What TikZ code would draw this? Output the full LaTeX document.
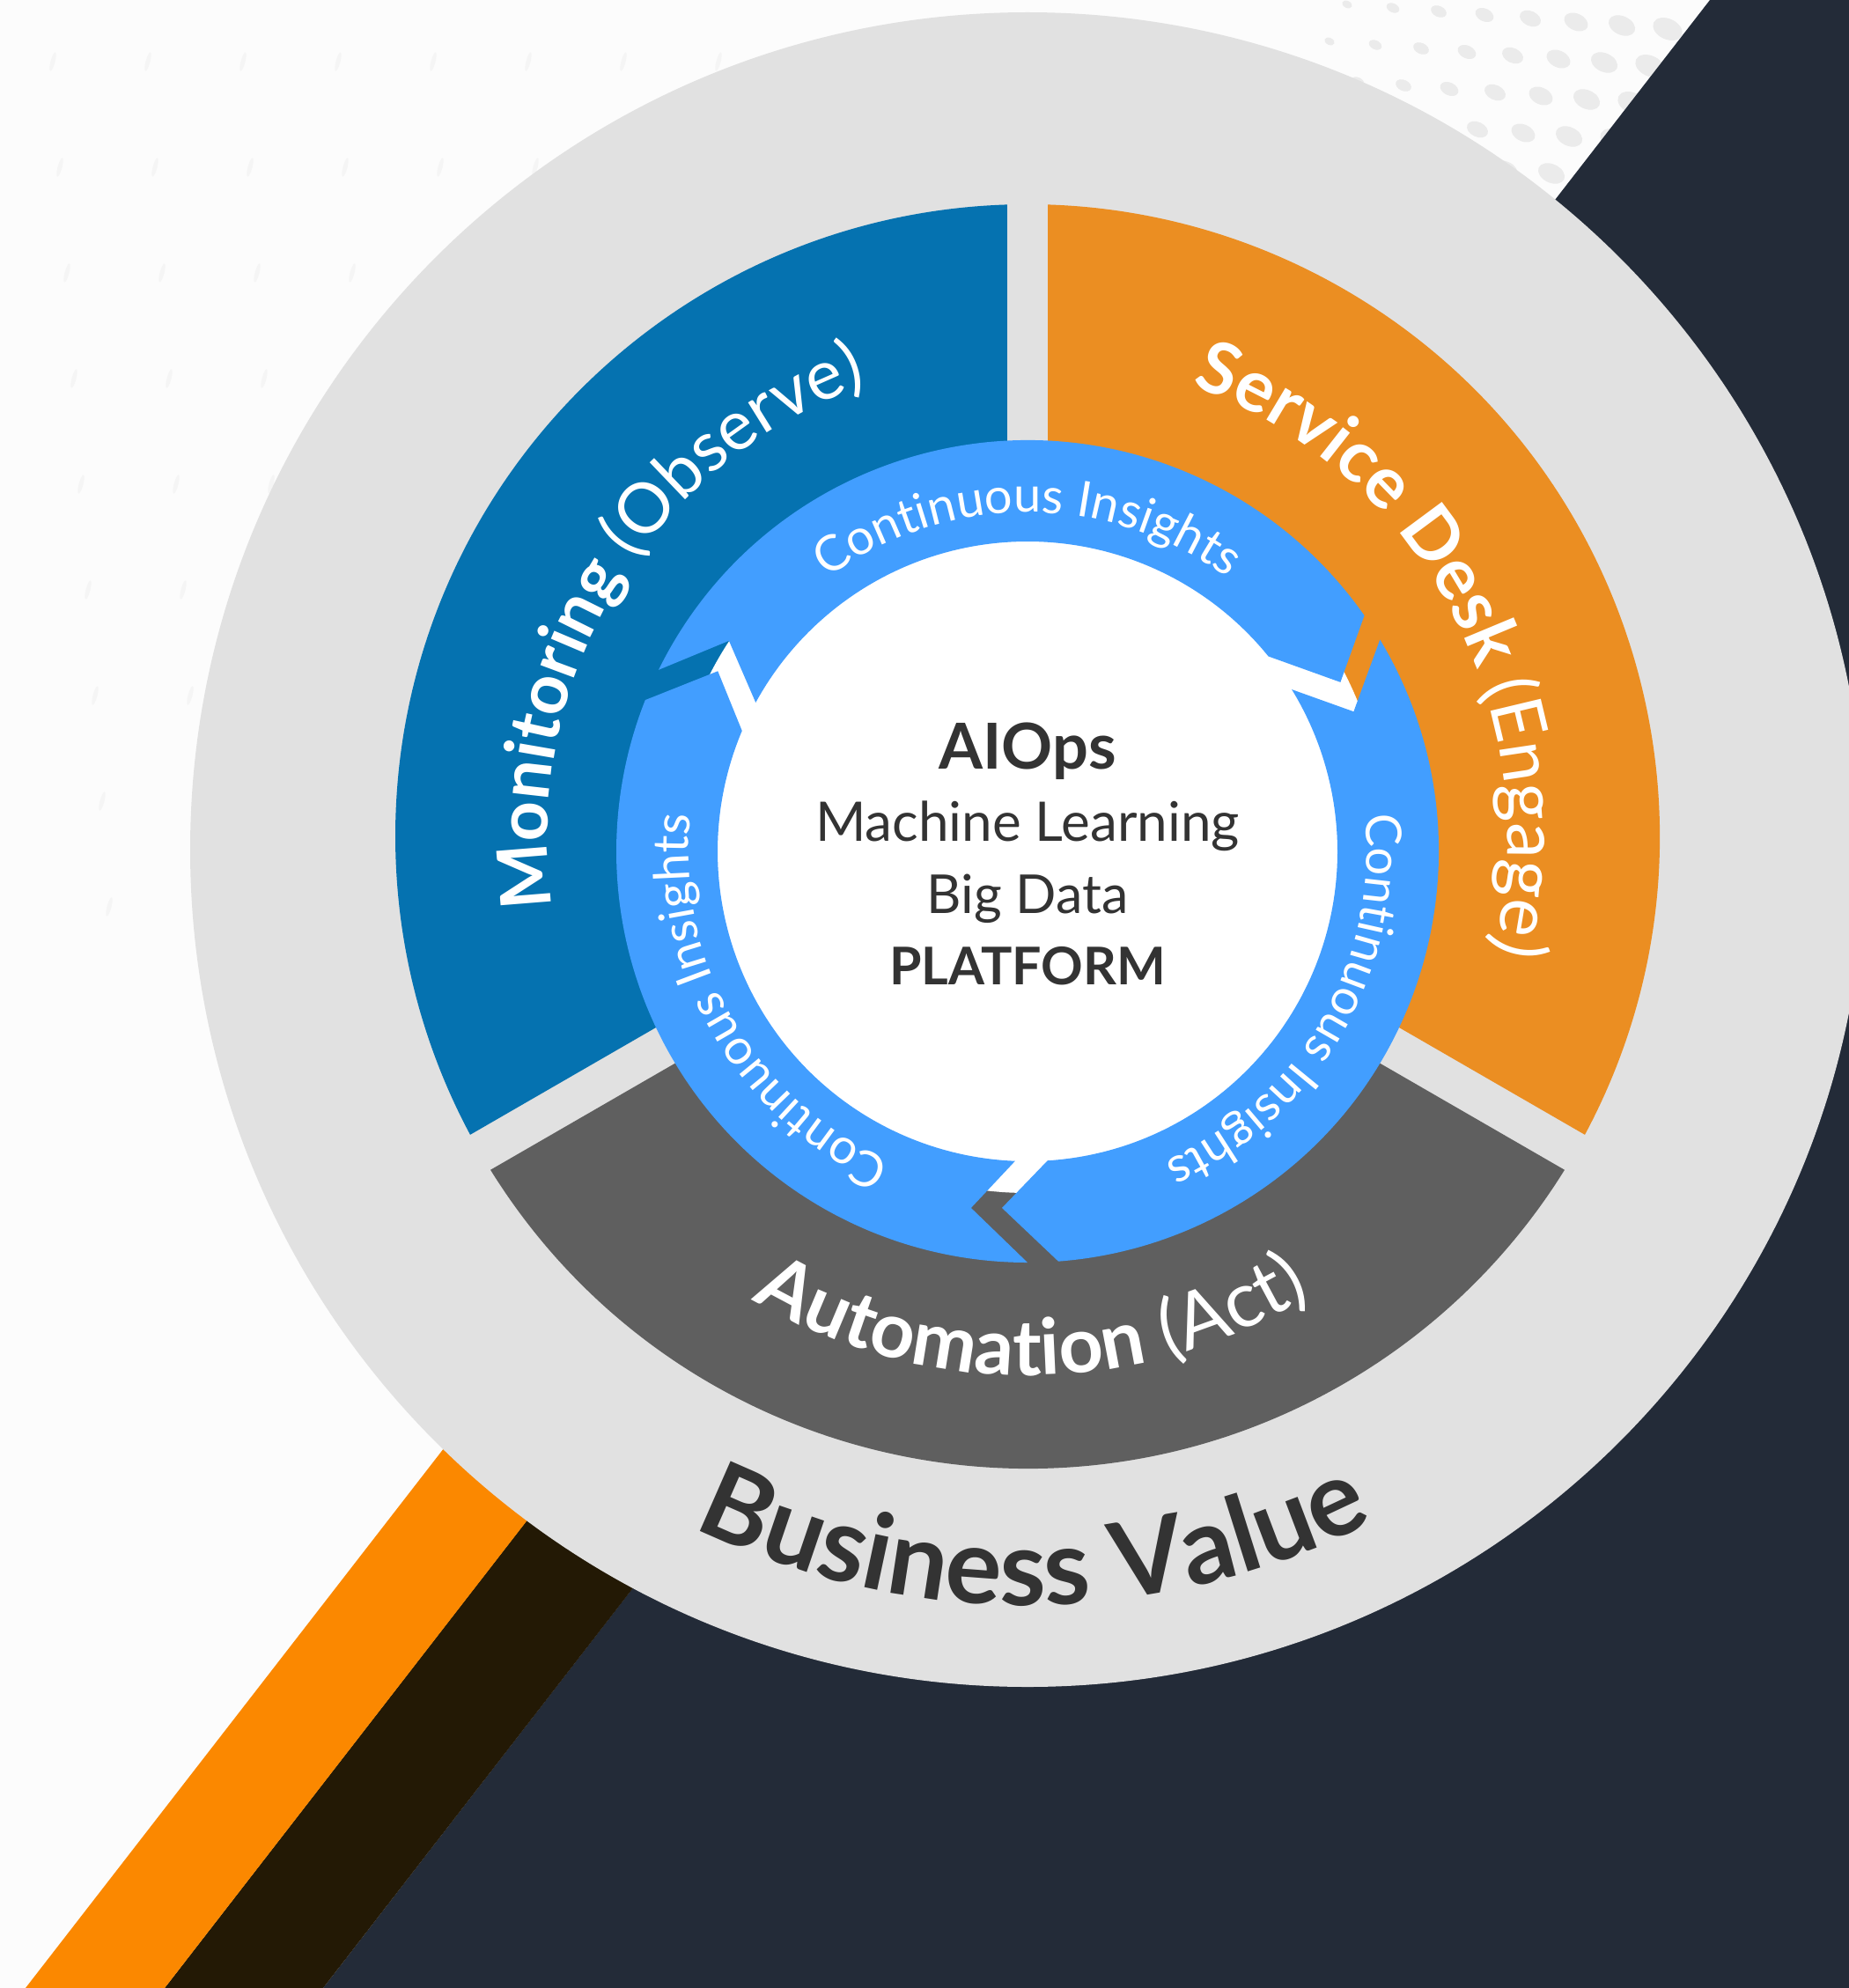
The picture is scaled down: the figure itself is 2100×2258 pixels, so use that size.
\documentclass[tikz,border=0pt]{standalone}
\usepackage{fontspec}
\setmainfont{Lato}
\usetikzlibrary{decorations.text}
\definecolor{bgcol}{HTML}{FCFCFC}
\definecolor{dotcol}{HTML}{EBEBEB}
\definecolor{faintdot}{HTML}{F5F5F5}
\definecolor{navy}{HTML}{232B38}
\definecolor{brownband}{HTML}{231905}
\definecolor{orangeband}{HTML}{FB8800}
\definecolor{ringgray}{HTML}{E1E1E1}
\definecolor{monblue}{HTML}{0572B0}
\definecolor{svcorange}{HTML}{EB8E22}
\definecolor{autogray}{HTML}{5F5F5F}
\definecolor{arrowblue}{HTML}{429EFF}
\definecolor{darktext}{HTML}{333333}
\tikzset{
  segfill/.style={fill=#1, draw=none},
  arrowpiece/.style={fill=arrowblue, draw=none},
  centerline/.style={anchor=base, text=darktext, inner sep=0pt},
}
\newcommand{\monfont}{\fontsize{79}{96}\selectfont}
\newcommand{\segfont}{\fontsize{82}{98}\selectfont}
\newcommand{\autofont}{\fontsize{88}{104}\selectfont}
\newcommand{\bvfont}{\fontsize{120}{140}\selectfont}
\newcommand{\cifont}{\fontsize{56}{66}\selectfont}
\begin{document}
\begin{tikzpicture}[x=1pt,y=1pt]
\useasboundingbox (0,0) rectangle (2100,-2258);
\fill[bgcol] (0,0) rectangle (2100,-2258);
% faint background streaks (top left)
\foreach \i in {0,...,9}{
  \foreach \j in {0,...,8}{
    \fill[faintdot, rotate around={75:(60+\i*108+\j*8,-70-\j*120)}] (60+\i*108+\j*8,-70-\j*120) ellipse[x radius=11, y radius=2.5];
  }
}
% halftone dots (top right)
\foreach \i in {0,...,9}{
  \foreach \j in {0,...,7}{
    \pgfmathsetmacro{\px}{1530+\i*52-\j*20}
    \pgfmathsetmacro{\py}{-5-\j*42-\i*4}
    \pgfmathsetmacro{\rs}{4+\i*1.1}
    \fill[dotcol, rotate around={-25:(\px,\py)}] (\px,\py) ellipse[x radius=1.5*\rs, y radius=\rs];
  }
}
% dark diagonal region and stripes
\fill[navy] (1942,0) -- (2100,0) -- (2100,-2258) -- (367,-2258) -- (799,-1700) -- (1709.5,-300) -- cycle;
\fill[brownband] (187,-2258) -- (367,-2258) -- (838,-1650) -- (658,-1650) -- cycle;
\fill[orangeband] (29,-2258) -- (187,-2258) -- (697,-1600) -- (539,-1600) -- cycle;
% outer gray disc
\coordinate (G) at (1167,-965);
\fill[ringgray] (G) circle[radius=951];
% segments
\coordinate (C) at (1167,-950);
\path[segfill=monblue] ([shift={(C)}]-23,13.28) -- ([shift={(C)}]91.84:718) arc[start angle=91.84, end angle=208.16, radius=718] -- cycle;
\path[segfill=svcorange] ([shift={(C)}]23,13.28) -- ([shift={(C)}]-28.16:718) arc[start angle=-28.16, end angle=88.16, radius=718] -- cycle;
\path[segfill=autogray] ([shift={(C)}]0,-26.56) -- ([shift={(C)}]211.84:718) arc[start angle=211.84, end angle=328.16, radius=718] -- cycle;
\fill[white] (C) circle[radius=405];
% ring arrows
\coordinate (R) at (1167,-967);
\path[arrowpiece] ([shift={(R)}]153.8:467) arc[start angle=153.8, end angle=35.0, radius=467]
  -- ([shift={(R)}]28.4:404) -- ([shift={(R)}]39.0:352) arc[start angle=39.0, end angle=151.3, radius=352]
  -- ([shift={(R)}]144.8:415) -- cycle;
\path[arrowpiece] ([shift={(R)}]31.0:467) arc[start angle=31.0, end angle=-85.7, radius=467]
  -- ([shift={(R)}]-94.1:406) -- ([shift={(R)}]-86.3:352) arc[start angle=-86.3, end angle=31.5, radius=352]
  -- ([shift={(R)}]23.2:403) -- cycle;
\path[arrowpiece] ([shift={(R)}]270:467) arc[start angle=270, end angle=158.4, radius=467]
  -- ([shift={(R)}]149.8:407) -- ([shift={(R)}]157.1:352) arc[start angle=157.1, end angle=267.7, radius=352]
  -- ([shift={(R)}]261.0:410) -- cycle;
% ring texts
\path[decorate, decoration={text along path, text align=center,
  text={|\cifont\color{white}|Continuous Insights}}]
  ([shift={(R)}]160:385) arc[start angle=160, end angle=20, radius=385];
\path[decorate, decoration={text along path, text align=center,
  text={|\cifont\color{white}|Continuous Insights}}]
  ([shift={(R)}]40:385) arc[start angle=40, end angle=-100, radius=385];
\path[decorate, decoration={text along path, text align=center,
  text={|\cifont\color{white}|Continuous Insights}}]
  ([shift={(R)}]280:385) arc[start angle=280, end angle=140, radius=385];
% segment labels
\path[decorate, decoration={text along path, text align=center,
  text={|\monfont\bfseries\color{white}|Monitoring |\monfont\mdseries\color{white}|(Observe)}}]
  ([shift={(C)}]234:545) arc[start angle=234, end angle=64, radius=545];
\path[decorate, decoration={text along path, text align=center,
  text={|\segfont\bfseries\color{white}|Service Desk |\segfont\mdseries\color{white}|(Engage)}}]
  ([shift={(C)}]113:545) arc[start angle=113, end angle=-57, radius=545];
\path[decorate, decoration={text along path, text align=center,
  text={|\autofont\bfseries\color{white}|Automation |\autofont\mdseries\color{white}|(Act)}}]
  ([shift={(C)}]190.5:612) arc[start angle=190.5, end angle=350.5, radius=612];
\path[decorate, decoration={text along path, text align=center,
  text={|\bvfont\bfseries\color{darktext}|Business Value}}]
  ([shift={(G)}]195.5:858) arc[start angle=195.5, end angle=345.5, radius=858];
% center text
\node[centerline, font=\fontsize{72}{80}\selectfont\bfseries] (aiops) at (1167,-873) {AIOps};
\node[centerline, font=\fontsize{62}{70}\selectfont] (ml) at (1167,-955) {Machine Learning};
\node[centerline, font=\fontsize{61}{70}\selectfont] (bd) at (1167,-1037) {Big Data};
\node[centerline, font=\fontsize{59}{70}\selectfont\bfseries] (pf) at (1167,-1118) {PLATFORM};
\end{tikzpicture}
\end{document}
